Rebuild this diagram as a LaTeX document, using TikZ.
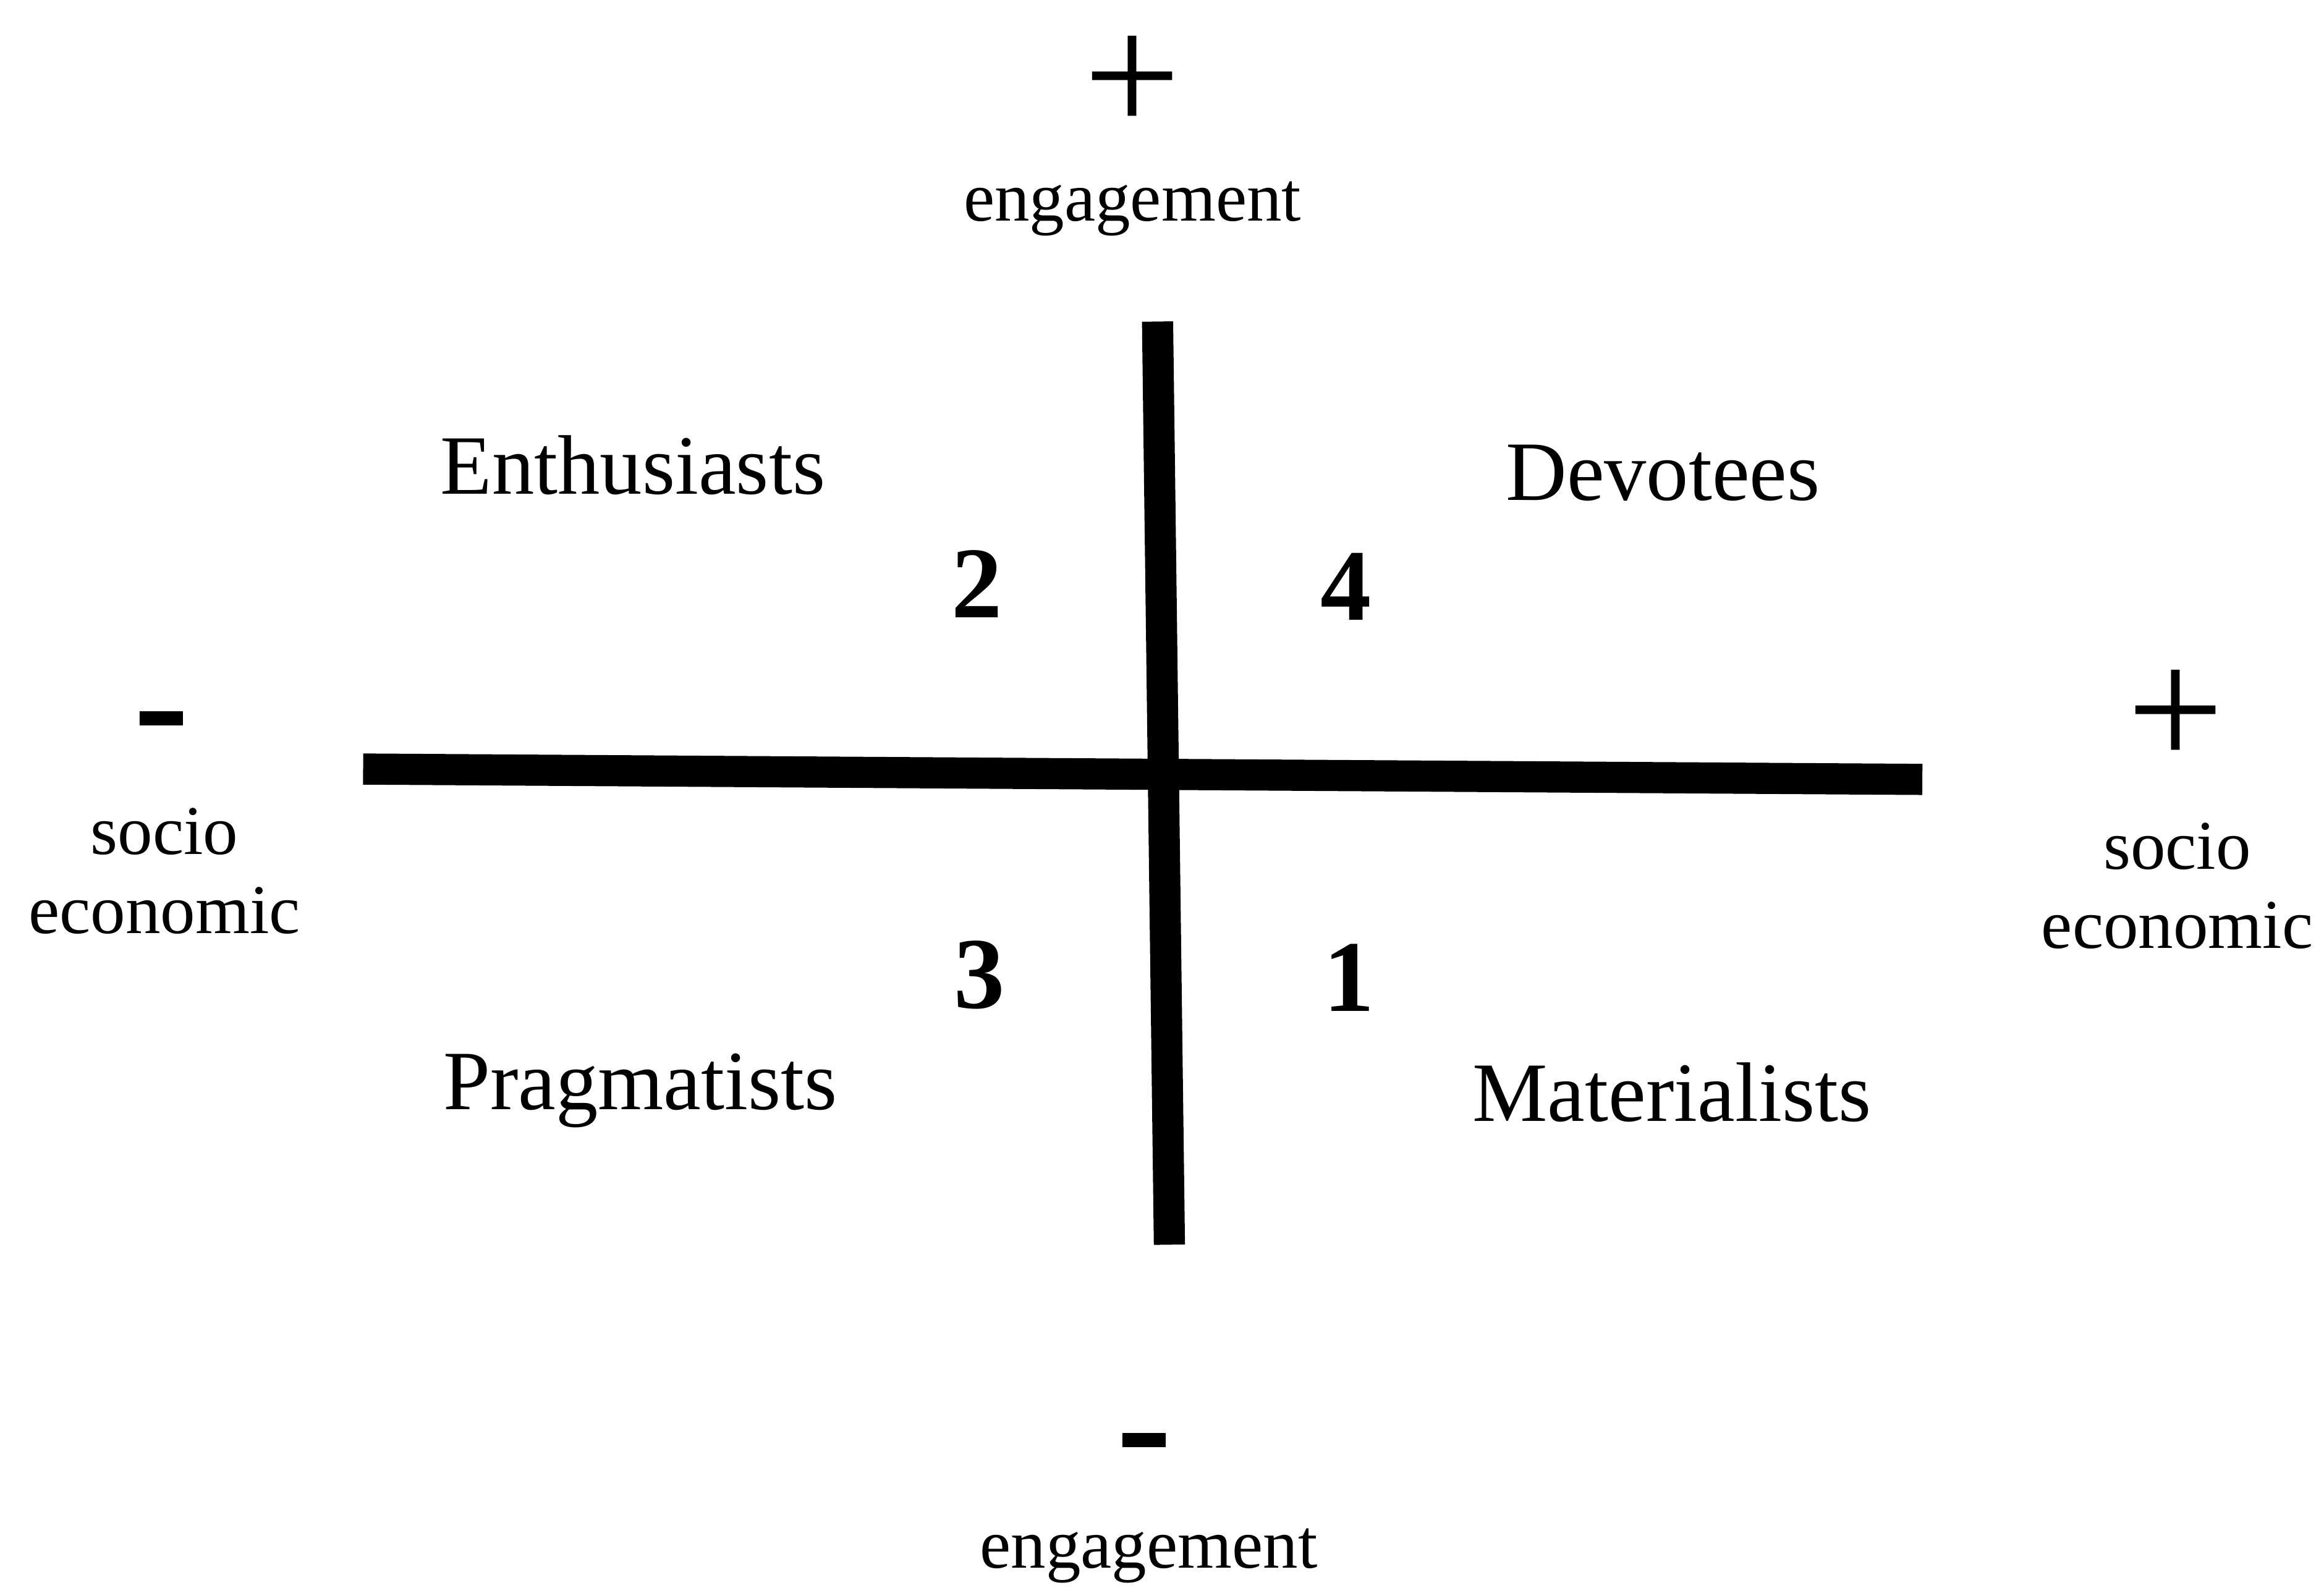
\documentclass[tikz,border=0pt]{standalone}
\usepackage{fontspec}
\setmainfont{Liberation Serif}
\usetikzlibrary{positioning}

\begin{document}
\begin{tikzpicture}[
        x=0.01cm, y=-0.01cm,
        axis/.style={line width=0.21cm},
        plus/.style={font=\fontsize{33}{33}\selectfont, inner sep=0pt},
        minus/.style={font=\fontsize{32}{32}\selectfont\bfseries, inner sep=0pt},
        pole/.style={font=\fontsize{13.4}{15.2}\selectfont, align=center, inner sep=0pt},
        group/.style={font=\fontsize{16.2}{18}\selectfont, inner sep=0pt},
        quad/.style={font=\fontsize{19.5}{20}\selectfont\bfseries, inner sep=0pt}
    ]
        \useasboundingbox (0,0) rectangle (1568,1075);

        \coordinate (engtop) at (781,217);
        \coordinate (engbot) at (789,840);
        \coordinate (socleft) at (245,519);
        \coordinate (socright) at (1297,526);

        \draw[axis] (socleft) -- (socright);
        \draw[axis] (engtop) -- (engbot);

        % poles of the two axes
        \node[plus] (engplus) at (764,57) {+};
        \node[pole] (englabtop) at (764,141) {engagement};
        \node[minus] (engminus) at (772,983) {-};
        \node[pole] (englabbot) at (775,1050) {engagement};
        \node[minus] (socminus) at (109,496) {-};
        \node[pole] (soclableft) at (111,588) {socio\\economic};
        \node[plus] (socplus) at (1468,485) {+};
        \node[pole] (soclabright) at (1469,598) {socio\\economic};

        % quadrants
        \node[group] (enth) at (427,314) {Enthusiasts};
        \node[group] (devo) at (1122,319) {Devotees};
        \node[group] (prag) at (432,736) {Pragmatists};
        \node[group] (mater) at (1128,737) {Materialists};

        \node[quad] (qtwo) at (659,394) {2};
        \node[quad] (qfour) at (908,396) {4};
        \node[quad] (qthree) at (661,658) {3};
        \node[quad] (qone) at (910,660) {1};
    \end{tikzpicture}
\end{document}
